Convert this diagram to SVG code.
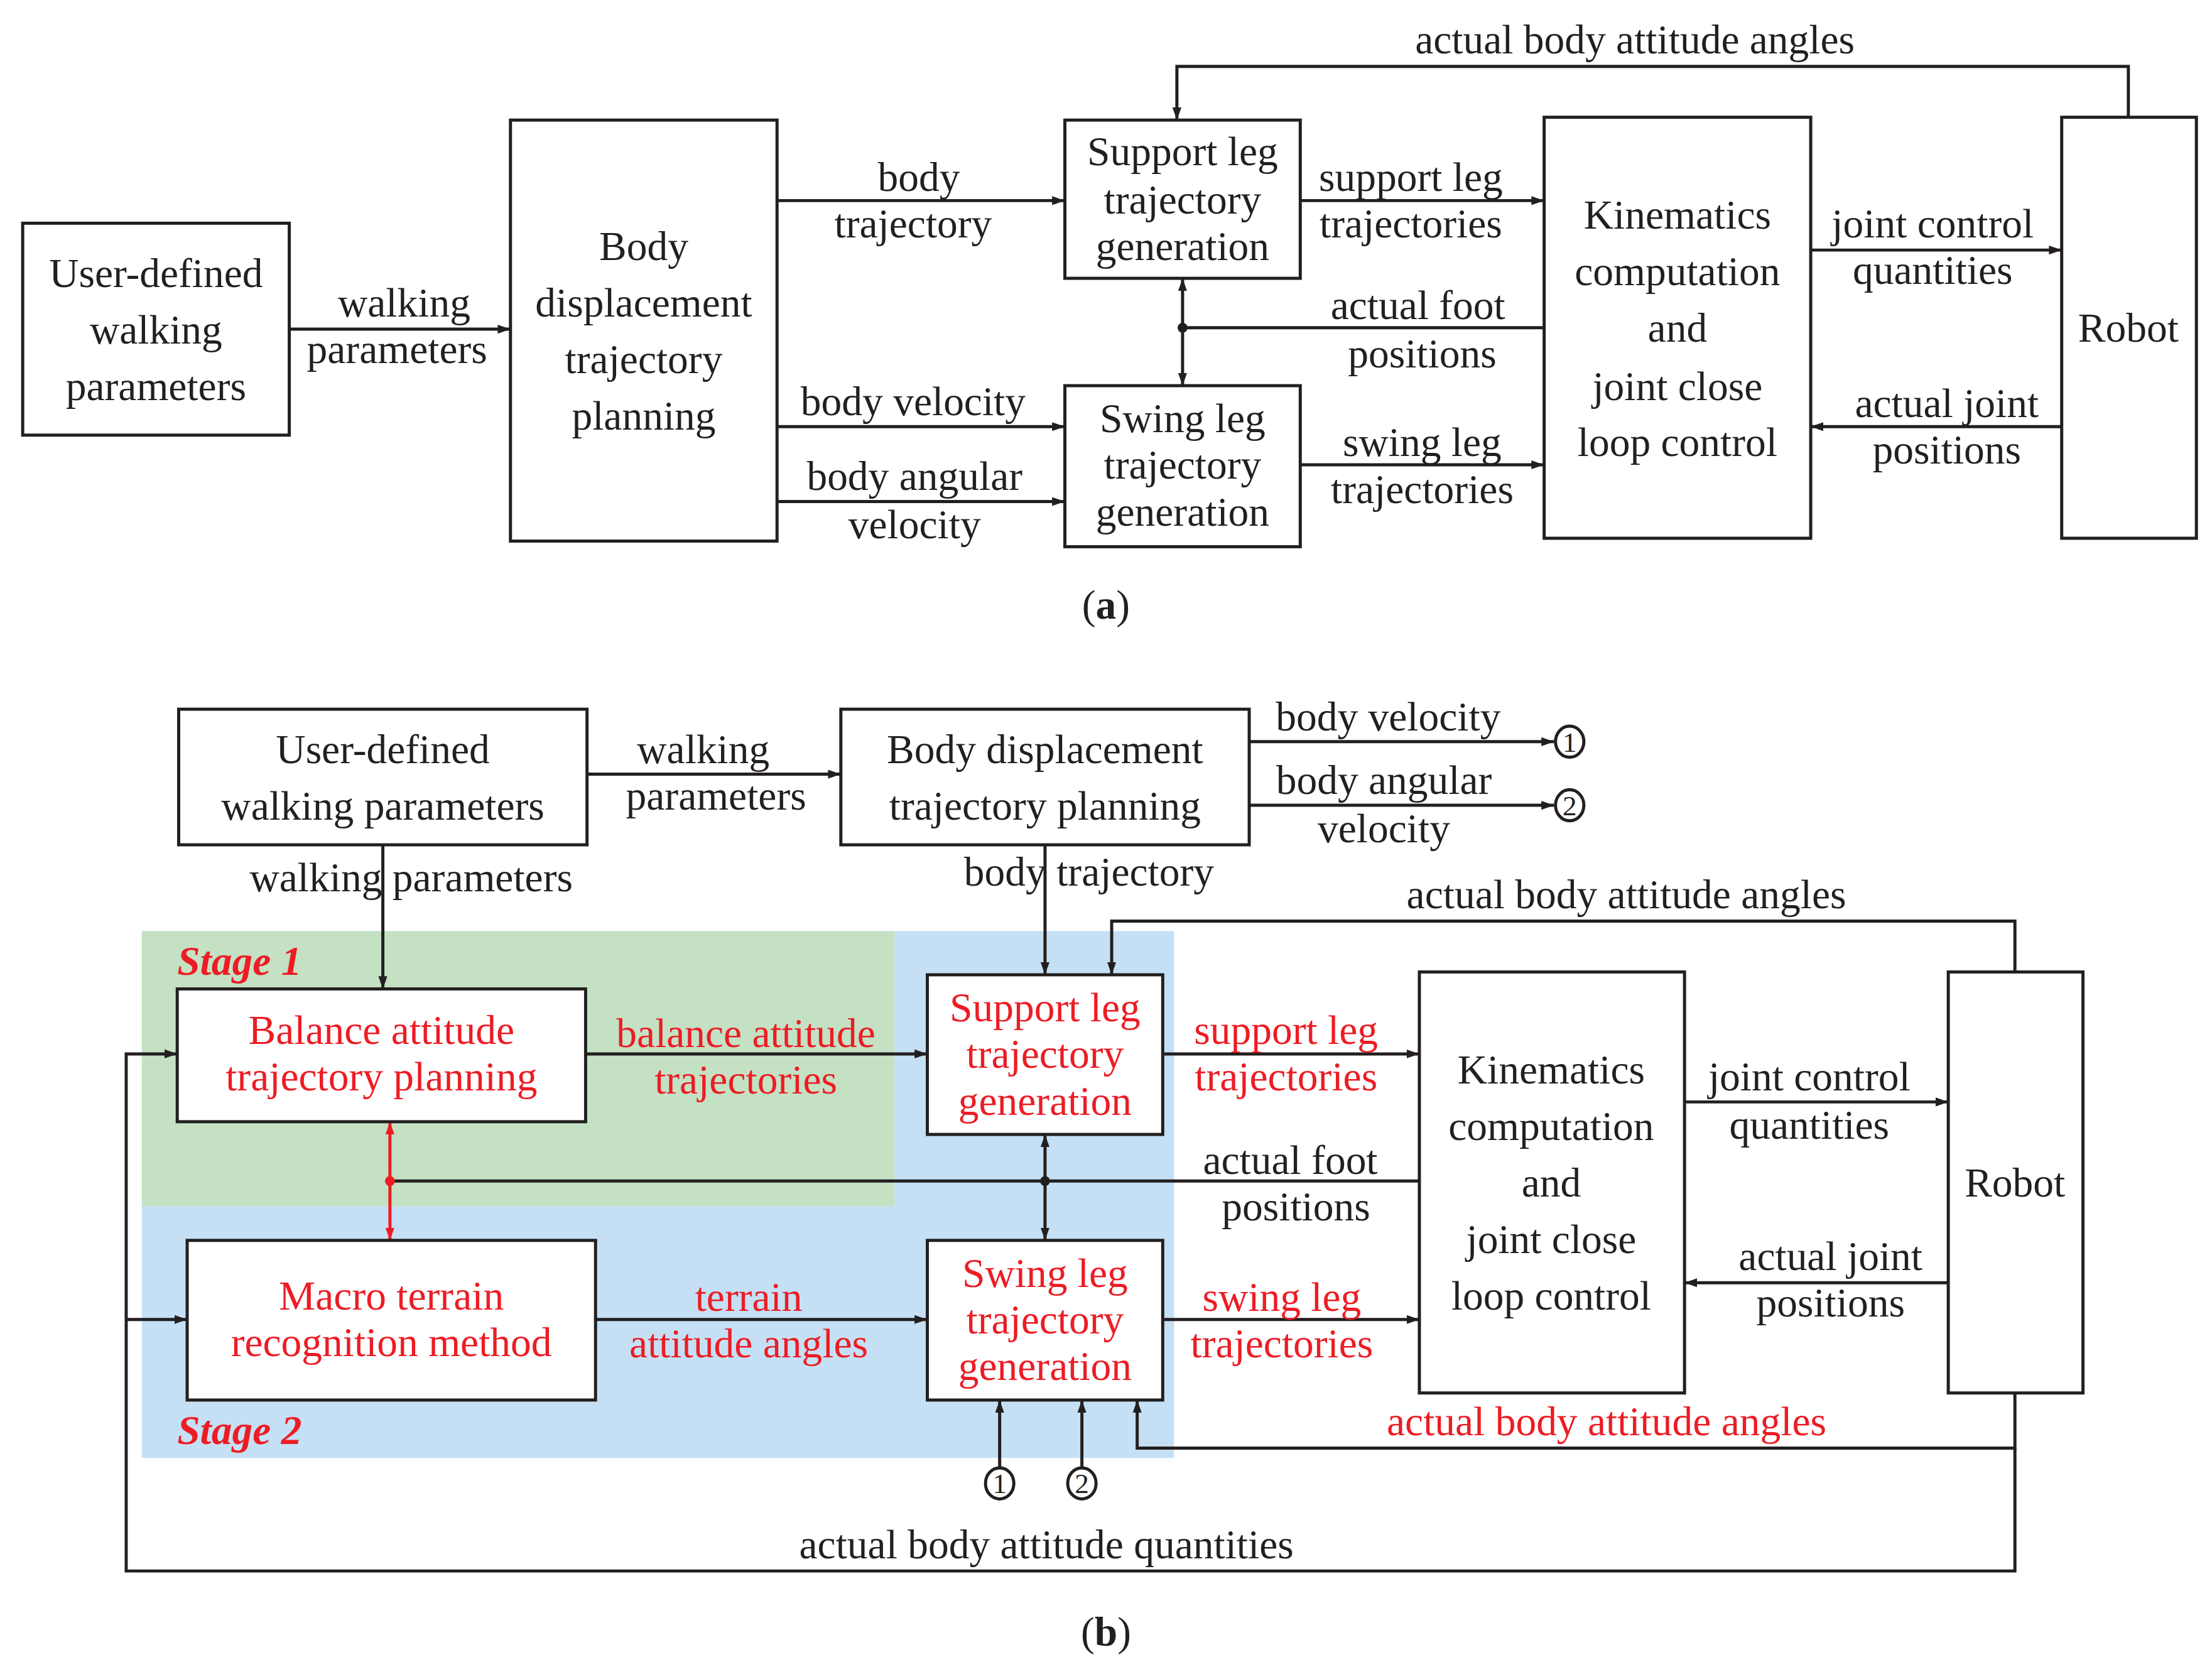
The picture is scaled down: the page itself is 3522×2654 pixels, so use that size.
<svg xmlns="http://www.w3.org/2000/svg" width="3522" height="2654" viewBox="0 0 3522 2654">
<style>
.b{fill:#fff;stroke:#231f20;stroke-width:2.2}
.l{fill:none;stroke:#231f20;stroke-width:2.2}
.r{fill:none;stroke:#ed1c24;stroke-width:2.2}
text{font-family:"Liberation Serif",serif;font-size:29px;text-anchor:middle;fill:#231f20}
.t{fill:#ed1c24}
.s{fill:#ed1c24;font-weight:bold;font-style:italic;text-anchor:start}
</style>
<defs>
<marker id="a" viewBox="0 0 10 10" refX="10" refY="5" markerWidth="9" markerHeight="9" markerUnits="userSpaceOnUse" orient="auto-start-reverse"><path d="M0,1.5L10,5L0,8.5z" fill="#231f20"/></marker>
<marker id="ar" viewBox="0 0 10 10" refX="10" refY="5" markerWidth="9" markerHeight="9" markerUnits="userSpaceOnUse" orient="auto-start-reverse"><path d="M0,1.5L10,5L0,8.5z" fill="#ed1c24"/></marker>
</defs>
<rect width="3522" height="2654" fill="#fff"/>
<g transform="scale(2.2577,2.2492)">
<rect x="100" y="659" width="531" height="195" fill="#c4e1c4"/>
<path d="M631,659H828V1032H100V854H631Z" fill="#c5e0f4"/>
<g id="connectors">
<line class="l" x1="204" y1="233" x2="360" y2="233" marker-end="url(#a)"/>
<line class="l" x1="548" y1="142" x2="751" y2="142" marker-end="url(#a)"/>
<line class="l" x1="548" y1="302" x2="751" y2="302" marker-end="url(#a)"/>
<line class="l" x1="548" y1="355" x2="751" y2="355" marker-end="url(#a)"/>
<line class="l" x1="917" y1="142" x2="1089" y2="142" marker-end="url(#a)"/>
<line class="l" x1="1089" y1="232" x2="834" y2="232"/>
<circle cx="834" cy="232" r="3.5" fill="#231f20"/>
<line class="l" x1="834" y1="197" x2="834" y2="273" marker-start="url(#a)" marker-end="url(#a)"/>
<line class="l" x1="917" y1="329" x2="1089" y2="329" marker-end="url(#a)"/>
<line class="l" x1="1277" y1="177" x2="1454" y2="177" marker-end="url(#a)"/>
<line class="l" x1="1454" y1="302" x2="1277" y2="302" marker-end="url(#a)"/>
<polyline class="l" points="1501,83 1501,47 830,47 830,85" marker-end="url(#a)"/>
<line class="l" x1="414" y1="548" x2="593" y2="548" marker-end="url(#a)"/>
<line class="l" x1="881" y1="525" x2="1096" y2="525" marker-end="url(#a)"/>
<line class="l" x1="881" y1="570" x2="1096" y2="570" marker-end="url(#a)"/>
<line class="l" x1="270" y1="598" x2="270" y2="700" marker-end="url(#a)"/>
<line class="l" x1="737" y1="598" x2="737" y2="690" marker-end="url(#a)"/>
<line class="l" x1="413" y1="746" x2="654" y2="746" marker-end="url(#a)"/>
<line class="l" x1="420" y1="934" x2="654" y2="934" marker-end="url(#a)"/>
<line class="l" x1="820" y1="746" x2="1001" y2="746" marker-end="url(#a)"/>
<line class="l" x1="820" y1="934" x2="1001" y2="934" marker-end="url(#a)"/>
<line class="l" x1="1001" y1="836" x2="275" y2="836"/>
<circle cx="737" cy="836" r="3.5" fill="#231f20"/>
<circle cx="275" cy="836" r="3.5" fill="#ed1c24"/>
<line class="r" x1="275" y1="794" x2="275" y2="878" marker-start="url(#ar)" marker-end="url(#ar)"/>
<line class="l" x1="737" y1="803" x2="737" y2="878" marker-start="url(#a)" marker-end="url(#a)"/>
<line class="l" x1="1188" y1="780" x2="1374" y2="780" marker-end="url(#a)"/>
<line class="l" x1="1374" y1="908" x2="1188" y2="908" marker-end="url(#a)"/>
<polyline class="l" points="1421,688 1421,652 784,652 784,690" marker-end="url(#a)"/>
<polyline class="l" points="1421,986 1421,1025 802,1025 802,991" marker-end="url(#a)"/>
<line class="l" x1="705" y1="1039" x2="705" y2="991" marker-end="url(#a)"/>
<line class="l" x1="763" y1="1039" x2="763" y2="991" marker-end="url(#a)"/>
<polyline class="l" points="1421,1025 1421,1112 89,1112 89,746 125,746" marker-end="url(#a)"/>
<line class="l" x1="89" y1="934" x2="132" y2="934" marker-end="url(#a)"/>
<ellipse class="l" cx="1107" cy="525" rx="10" ry="11"/>
<ellipse class="l" cx="1107" cy="570" rx="10" ry="11"/>
<ellipse class="l" cx="705" cy="1050" rx="10" ry="11"/>
<ellipse class="l" cx="763" cy="1050" rx="10" ry="11"/>
</g>
<g font-size="20">
<text x="1107" y="532" style="font-size:20px">1</text>
<text x="1107" y="577" style="font-size:20px">2</text>
<text x="705" y="1057" style="font-size:20px">1</text>
<text x="763" y="1057" style="font-size:20px">2</text>
</g>
<g id="labels">
<text x="285" y="224">walking</text><text x="280" y="257">parameters</text>
<text x="648" y="135">body</text><text x="644" y="168">trajectory</text>
<text x="644" y="294">body velocity</text>
<text x="645" y="347">body angular</text><text x="645" y="381">velocity</text>
<text x="995" y="135">support leg</text><text x="995" y="168">trajectories</text>
<text x="1000" y="226">actual foot</text><text x="1003" y="260">positions</text>
<text x="1003" y="323">swing leg</text><text x="1003" y="356">trajectories</text>
<text x="1363" y="168">joint control</text><text x="1363" y="201">quantities</text>
<text x="1373" y="295">actual joint</text><text x="1373" y="328">positions</text>
<text x="1153" y="38">actual body attitude angles</text>
<text x="780" y="438">(<tspan font-weight="bold">a</tspan>)</text>
<text x="496" y="540">walking</text><text x="505" y="573">parameters</text>
<text x="979" y="517">body velocity</text>
<text x="976" y="562">body angular</text><text x="976" y="596">velocity</text>
<text x="290" y="631">walking parameters</text>
<text x="768" y="627">body trajectory</text>
<text class="t" x="526" y="741">balance attitude</text><text class="t" x="526" y="774">trajectories</text>
<text class="t" x="528" y="928">terrain</text><text class="t" x="528" y="961">attitude angles</text>
<text class="t" x="907" y="739">support leg</text><text class="t" x="907" y="772">trajectories</text>
<text class="t" x="904" y="928">swing leg</text><text class="t" x="904" y="961">trajectories</text>
<text x="910" y="831">actual foot</text><text x="914" y="864">positions</text>
<text x="1276" y="772">joint control</text><text x="1276" y="806">quantities</text>
<text x="1291" y="899">actual joint</text><text x="1291" y="932">positions</text>
<text x="1147" y="643">actual body attitude angles</text>
<text class="t" x="1133" y="1016">actual body attitude angles</text>
<text x="738" y="1103">actual body attitude quantities</text>
<text x="780" y="1165">(<tspan font-weight="bold">b</tspan>)</text>
<text class="s" x="125" y="690">Stage 1</text>
<text class="s" x="125" y="1022">Stage 2</text>
</g>
<g id="n1"><rect class="b" x="16" y="158" width="188" height="150"/><text x="110" y="203">User-defined</text><text x="110" y="243">walking</text><text x="110" y="283">parameters</text></g>
<g id="n2"><rect class="b" x="360" y="85" width="188" height="298"/><text x="454" y="184">Body</text><text x="454" y="224">displacement</text><text x="454" y="264">trajectory</text><text x="454" y="304">planning</text></g>
<g id="n3"><rect class="b" x="751" y="85" width="166" height="112"/><text x="834" y="117">Support leg</text><text x="834" y="151">trajectory</text><text x="834" y="184">generation</text></g>
<g id="n4"><rect class="b" x="751" y="273" width="166" height="114"/><text x="834" y="306">Swing leg</text><text x="834" y="339">trajectory</text><text x="834" y="372">generation</text></g>
<g id="n5"><rect class="b" x="1089" y="83" width="188" height="298"/><text x="1183" y="162">Kinematics</text><text x="1183" y="202">computation</text><text x="1183" y="242">and</text><text x="1183" y="283">joint close</text><text x="1183" y="323">loop control</text></g>
<g id="n6"><rect class="b" x="1454" y="83" width="95" height="298"/><text x="1501" y="242">Robot</text></g>
<g id="m1"><rect class="b" x="126" y="502" width="288" height="96"/><text x="270" y="540">User-defined</text><text x="270" y="580">walking parameters</text></g>
<g id="m2"><rect class="b" x="593" y="502" width="288" height="96"/><text x="737" y="540">Body displacement</text><text x="737" y="580">trajectory planning</text></g>
<g id="m3"><rect class="b" x="125" y="700" width="288" height="94"/><text class="t" x="269" y="739">Balance attitude</text><text class="t" x="269" y="772">trajectory planning</text></g>
<g id="m4"><rect class="b" x="132" y="878" width="288" height="113"/><text class="t" x="276" y="927">Macro terrain</text><text class="t" x="276" y="960">recognition method</text></g>
<g id="m5"><rect class="b" x="654" y="690" width="166" height="113"/><text class="t" x="737" y="723">Support leg</text><text class="t" x="737" y="756">trajectory</text><text class="t" x="737" y="789">generation</text></g>
<g id="m6"><rect class="b" x="654" y="878" width="166" height="113"/><text class="t" x="737" y="911">Swing leg</text><text class="t" x="737" y="944">trajectory</text><text class="t" x="737" y="977">generation</text></g>
<g id="m7"><rect class="b" x="1001" y="688" width="187" height="298"/><text x="1094" y="767">Kinematics</text><text x="1094" y="807">computation</text><text x="1094" y="847">and</text><text x="1094" y="887">joint close</text><text x="1094" y="927">loop control</text></g>
<g id="m8"><rect class="b" x="1374" y="688" width="95" height="298"/><text x="1421" y="847">Robot</text></g>
</g>
</svg>
